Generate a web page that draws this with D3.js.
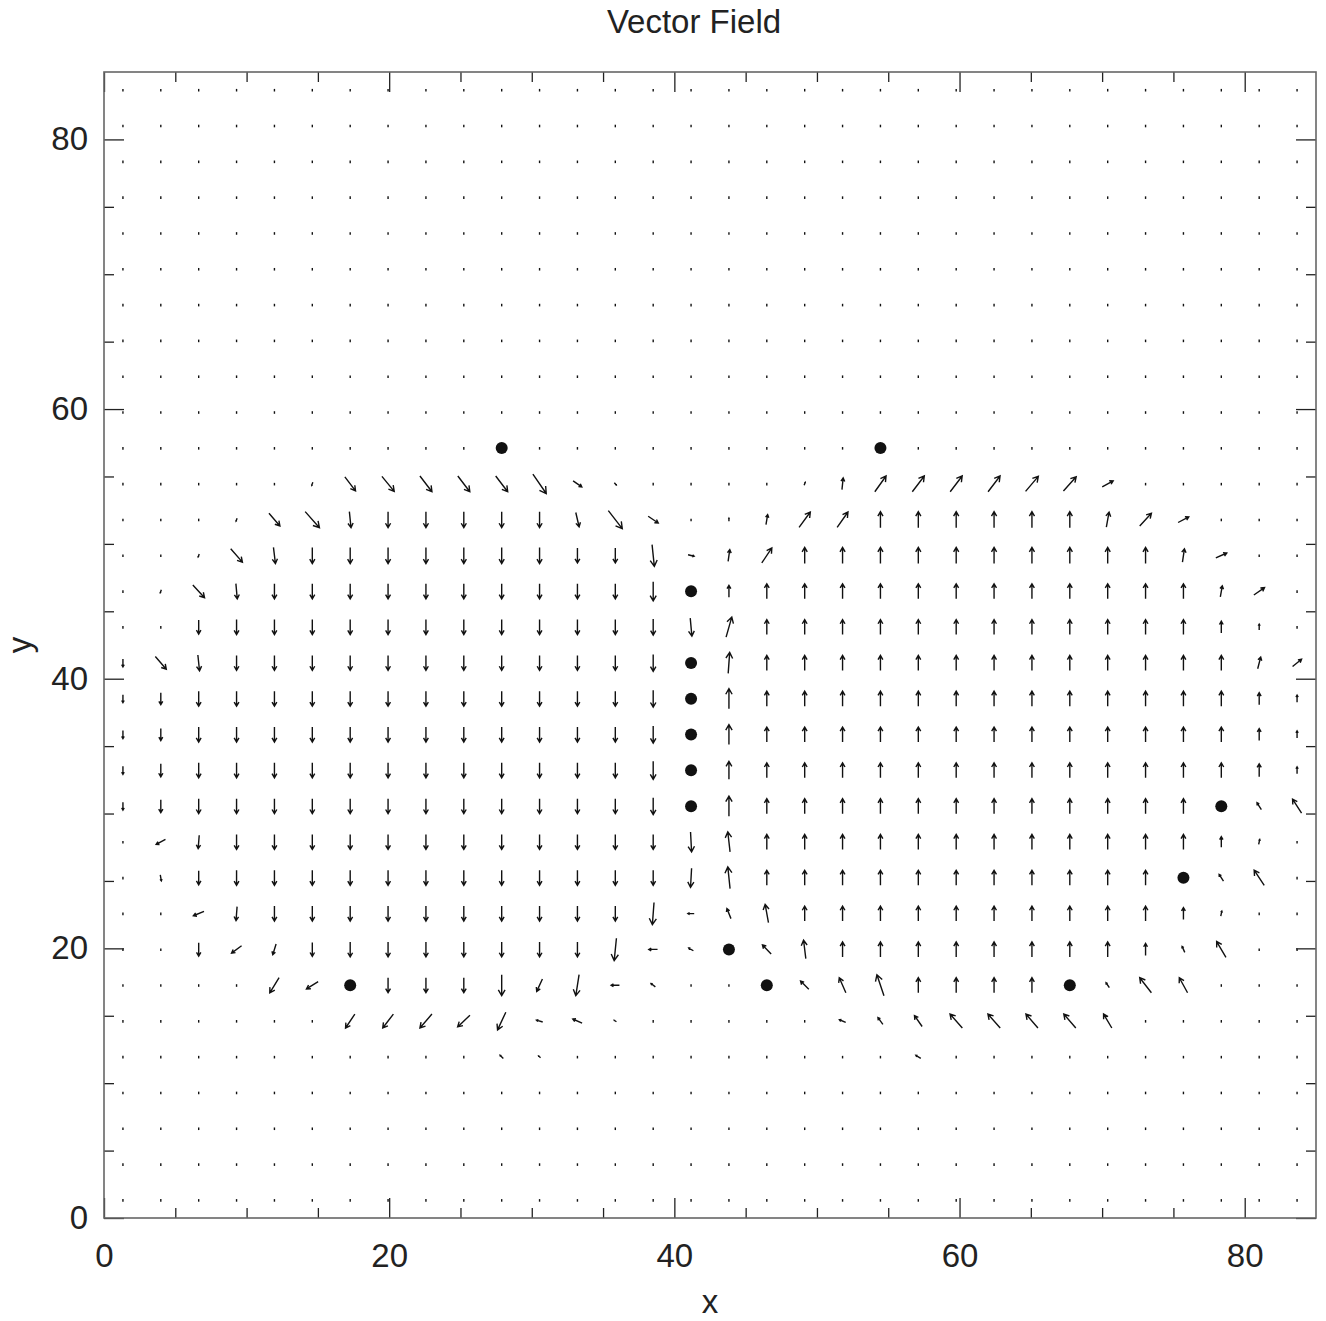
<!DOCTYPE html>
<html>
<head>
<meta charset="utf-8">
<script src="https://cdn.jsdelivr.net/npm/d3@7/dist/d3.min.js"></script>
<style>
  body { margin: 0; background: #fff; }
  text { font-family: "Liberation Sans", Arial, Helvetica, sans-serif; fill: #222; }
</style>
</head>
<body>
<div id="chart"></div>
<script>
// grid centres, 32 x 32
var gridX = [1.328, 3.984, 6.641, 9.297, 11.953, 14.609, 17.266, 19.922, 22.578, 25.234,
  27.891, 30.547, 33.203, 35.859, 38.516, 41.172, 43.828, 46.484, 49.141, 51.797,
  54.453, 57.109, 59.766, 62.422, 65.078, 67.734, 70.391, 73.047, 75.703, 78.359,
  81.016, 83.672];
var gridY = [1.328, 3.984, 6.641, 9.297, 11.953, 14.609, 17.266, 19.922, 22.578, 25.234,
  27.891, 30.547, 33.203, 35.859, 38.516, 41.172, 43.828, 46.484, 49.141, 51.797,
  54.453, 57.109, 59.766, 62.422, 65.078, 67.734, 70.391, 73.047, 75.703, 78.359,
  81.016, 83.672];

// rows (index into gridY) that carry non-zero vectors, top to bottom
var vecRows = [20, 19, 18, 17, 16, 15, 14, 13, 12, 11, 10, 9, 8, 7, 6, 5, 4];

// u component per row (32 columns)
var uRows = [
  [0,0,0,0,0, -0.07,0.71,0.82,0.8,0.8, 0.8,0.89,0.58,0.13,0, 0,0,0,0.07,0.08, 0.75,0.8,0.8,0.8,0.85, 0.85,0.73,0,0,0, 0,0],
  [0,0,0,-0.07,0.73, 0.95,0.11,0,0,0, 0,0,0.22,0.93,0.67, 0,0,0.11,0.75,0.72, 0,0,0,0,0, 0,0.18,0.78,0.71,0, 0,0],
  [0,0,-0.07,0.78,0.13, 0,0,0,0,0, 0,0,0,0,0.15, 0.4,0.11,0.67,0,0, 0,0,0,0,0, 0,0,0,0.13,0.73, 0,0],
  [0,-0.07,0.78,0.09,0, 0,0,0,0,0, 0,0,0,0,0, 0,0,0,0,0, 0,0,0,0,0, 0,0,0,0,0.13, 0.71,0],
  [0,0,0,0,0, 0,0,0,0,0, 0,0,0,0,0, 0.11,0.38,0,0,0, 0,0,0,0,0, 0,0,0,0,0, 0,0],
  [0,0.73,0.11,0,0, 0,0,0,0,0, 0,0,0,0,0, 0,0.1,0,0,0, 0,0,0,0,0, 0,0,0,0,0, 0.2,0.6],
  [0,0,0,0,0, 0,0,0,0,0, 0,0,0,0,0, 0,0,0,0,0, 0,0,0,0,0, 0,0,0,0,0, 0,0],
  [0,0,0,0,0, 0,0,0,0,0, 0,0,0,0,0, 0,0,0,0,0, 0,0,0,0,0, 0,0,0,0,0, 0,0],
  [0,0,0,0,0, 0,0,0,0,0, 0,0,0,0,0, 0,0,0,0,0, 0,0,0,0,0, 0,0,0,0,0, 0,0],
  [0,0,0,0,0, 0,0,0,0,0, 0,0,0,0,0, 0,0,0,0,0, 0,0,0,0,0, 0,0,0,0,0, -0.29,-0.6],
  [0,-0.62,-0.07,0,0, 0,0,0,0,0, 0,0,0,0,0, 0.07,-0.15,0,0,0, 0,0,0,0,0, 0,0,0,0,0, 0.07,0],
  [0,0.07,0,0,0, 0,0,0,0,0, 0,0,0,0,0, -0.07,-0.15,0,0,0, 0,0,0,0,0, 0,0,0,0,-0.29, -0.67,0],
  [0,0,-0.71,-0.07,0, 0,0,0,0,0, 0,0,0,0,-0.11, -0.42,-0.27,-0.22,0,0, 0,0,0,0,0, 0,0,0,0,0.07, 0,0],
  [0,0,0,-0.67,-0.22, 0,0,0,0,0, 0,0,0,-0.15,-0.58, -0.31,0,-0.58,-0.15,0, 0,0,0,0,0, 0,0,0,-0.18,-0.62, 0,0],
  [0,0,0,0,-0.62, -0.78,0,0,0,0, 0,-0.38,-0.22,-0.55,-0.29, 0,0,0,-0.55,-0.44, -0.47,0,0,0,0, 0,-0.22,-0.78,-0.55,0, 0,0],
  [0,0,0,0,0, 0,-0.62,-0.71,-0.8,-0.82, -0.55,-0.42,-0.62,-0.15,0, 0,0,0,0,-0.42, -0.33,-0.51,-0.82,-0.82,-0.8, -0.8,-0.55,0,0,0, 0,0],
  [0,0,0,0,0, 0,0,0,0,0, -0.22,-0.13,0,0,0, 0,0,0,0,0, 0,-0.33,0,0,0, 0,0,0,0,0, 0,0]
];

// v component per row (32 columns)
var vRows = [
  [0,0,0,0,0, -0.2,-0.93,-1.0,-1.05,-1.05, -1.05,-1.29,-0.4,-0.15,0, 0,0,0,0.2,0.78, 1.05,1.05,1.05,1.05,1.0, 0.95,0.4,0,0,0, 0,0],
  [0,0,0,-0.2,-0.85, -1.07,-1.07,-1.07,-1.07,-1.07, -1.07,-1.07,-0.95,-1.2,-0.45, 0,0.2,0.67,1.02,1.02, 1.07,1.07,1.07,1.07,1.07, 1.07,1.0,0.85,0.38,0, 0,0],
  [0,0,-0.2,-0.89,-1.07, -1.07,-1.07,-1.07,-1.07,-1.07, -1.07,-1.07,-1.0,-1.0,-1.45, -0.1,0.78,1.0,1.07,1.07, 1.07,1.07,1.07,1.07,1.07, 1.07,1.07,1.07,0.89,0.33, 0,0],
  [0,-0.2,-0.85,-1.02,-1.02, -1.02,-1.02,-1.02,-1.02,-1.02, -1.02,-1.02,-1.02,-1.02,-1.27, 0,0.8,1.0,1.0,1.0, 1.0,1.0,1.0,1.0,1.0, 1.0,1.0,1.0,1.0,0.73, 0.49,0],
  [0,0,-0.93,-1.0,-1.0, -1.0,-1.0,-1.0,-1.0,-1.0, -1.0,-1.0,-1.0,-1.0,-1.07, -1.2,1.33,1.0,1.0,1.0, 1.0,1.0,1.0,1.0,1.0, 1.0,1.0,1.0,1.0,0.78, 0.4,0],
  [-0.53,-0.85,-1.05,-1.0,-1.0, -1.0,-1.0,-1.0,-1.0,-1.0, -1.0,-1.0,-1.0,-1.0,-1.13, 0,1.4,1.0,1.0,1.0, 1.0,1.0,1.0,1.0,1.0, 1.0,1.0,1.0,1.0,1.0, 0.78,0.49],
  [-0.53,-0.8,-1.0,-1.0,-1.0, -1.0,-1.0,-1.0,-1.0,-1.0, -1.0,-1.0,-1.0,-1.0,-1.13, 0,1.33,1.0,1.0,1.0, 1.0,1.0,1.0,1.0,1.0, 1.0,1.0,1.0,1.0,1.0, 0.8,0.47],
  [-0.53,-0.8,-1.0,-1.0,-1.0, -1.0,-1.0,-1.0,-1.0,-1.0, -1.0,-1.0,-1.0,-1.0,-1.13, 0,1.33,1.0,1.0,1.0, 1.0,1.0,1.0,1.0,1.0, 1.0,1.0,1.0,1.0,1.0, 0.8,0.47],
  [-0.53,-0.87,-1.0,-1.0,-1.0, -1.0,-1.0,-1.0,-1.0,-1.0, -1.0,-1.0,-1.0,-1.0,-1.2, 0,1.2,1.0,1.0,1.0, 1.0,1.0,1.0,1.0,1.0, 1.0,1.0,1.0,1.0,1.0, 0.87,0.47],
  [-0.53,-0.87,-1.0,-1.0,-1.0, -1.0,-1.0,-1.0,-1.0,-1.0, -1.0,-1.0,-1.0,-1.0,-1.13, 0,1.33,1.0,1.0,1.0, 1.0,1.0,1.0,1.0,1.0, 1.0,1.0,1.0,1.0,0, 0.45,0.93],
  [0,-0.33,-0.89,-1.0,-1.0, -1.0,-1.0,-1.0,-1.0,-1.0, -1.0,-1.0,-1.0,-1.0,-1.0, -1.33,1.33,1.0,1.0,1.0, 1.0,1.0,1.0,1.0,1.0, 1.0,1.0,1.0,1.0,0.7, 0.33,0],
  [0,-0.4,-0.93,-1.0,-1.0, -1.0,-1.0,-1.0,-1.0,-1.0, -1.0,-1.0,-1.0,-1.0,-1.0, -1.27,1.45,1.0,1.0,1.0, 1.0,1.0,1.0,1.0,1.0, 1.0,1.0,1.0,0,0.45, 1.02,0],
  [0,0,-0.29,-0.93,-1.0, -1.0,-1.0,-1.0,-1.0,-1.0, -1.0,-1.0,-1.0,-1.0,-1.47, 0,0.67,1.22,1.0,1.0, 1.0,1.0,1.0,1.0,1.0, 1.0,1.0,1.0,0.8,0.33, 0,0],
  [0,0,-0.9,-0.49,-0.71, -0.93,-1.0,-1.0,-1.0,-1.0, -1.0,-1.0,-1.0,-1.49,0, 0.18,0,0.6,1.22,1.0, 1.0,1.0,1.0,1.0,1.0, 1.0,1.0,0.8,0.4,1.05, 0,0],
  [0,0,0,0,-1.02, -0.49,0,-1.0,-1.0,-1.0, -1.4,-0.82,-1.4,0,0.22, 0,0,0,0.55,1.0, 1.4,1.0,1.0,1.0,1.0, 0,0.33,1.0,1.0,0, 0,0],
  [0,0,0,0,0, 0,-0.93,-0.93,-0.93,-0.78, -1.18,0.13,0.27,0.1,0, 0,0,0,0,0.17, 0.45,0.73,0.93,0.93,0.93, 0.93,0.93,0,0,0, 0,0],
  [0,0,0,0,0, 0,0,0,0,0, 0.22,0.13,0,0,0, 0,0,0,0,0, 0,0.2,0,0,0, 0,0,0,0,0, 0,0]
];

// missing points drawn as dots [column, row]
var missing = [[10, 21], [20, 21], [15, 17], [15, 15], [15, 14], [15, 13], [15, 12], [15, 11],
  [29, 11], [28, 9], [16, 7], [6, 6], [17, 6], [25, 6]];

var majorTicks = [0, 20, 40, 60, 80];
var minorTicks = [5, 10, 15, 25, 30, 35, 45, 50, 55, 65, 70, 75];

var svgWidth = 1326;
var svgHeight = 1321;
var margin = { top: 72, right: 10, bottom: 103, left: 104 };
var width = svgWidth - margin.left - margin.right;
var height = svgHeight - margin.top - margin.bottom;

var svg = d3.select("#chart")
  .append("svg")
  .attr("width", svgWidth)
  .attr("height", svgHeight)
  .style("background", "#fff");

var chartGroup = svg.append("g")
  .attr("transform", `translate(${margin.left}, ${margin.top})`);

var x = d3.scaleLinear().domain([0, 85]).range([0, width]);
var y = d3.scaleLinear().domain([0, 85]).range([height, 0]);
// vector magnitude -> pixels
var len = d3.scaleLinear().domain([0, 1]).range([0, 15]);

var isMissing = {};
missing.forEach(function(m) { isMissing[m[0] + "," + m[1]] = true; });

var field = [];
gridY.forEach(function(gy, j) {
  var k = vecRows.indexOf(j);
  gridX.forEach(function(gx, i) {
    if (isMissing[i + "," + j]) return;
    field.push({
      x: gx, y: gy,
      u: k < 0 ? 0 : (uRows[k][i] || 0),
      v: k < 0 ? 0 : (vRows[k][i] || 0)
    });
  });
});

function arrowPath(d) {
  var cx = x(d.x), cy = y(d.y);
  var dx = len(d.u), dy = -len(d.v);
  var L = Math.sqrt(dx * dx + dy * dy);
  if (L < 1.5) {
    return `M${cx},${cy - 1}L${cx},${cy + 1.6}`;
  }
  var x0 = cx - dx / 2, y0 = cy - dy / 2;
  var x1 = cx + dx / 2, y1 = cy + dy / 2;
  var a = Math.atan2(dy, dx);
  var h = 0.32 * L;
  var hx1 = x1 - h * Math.cos(a - Math.PI / 6), hy1 = y1 - h * Math.sin(a - Math.PI / 6);
  var hx2 = x1 - h * Math.cos(a + Math.PI / 6), hy2 = y1 - h * Math.sin(a + Math.PI / 6);
  return `M${x0},${y0}L${x1},${y1}M${hx1},${hy1}L${x1},${y1}L${hx2},${hy2}`;
}

chartGroup.append("g")
  .selectAll("path")
  .data(field)
  .enter()
  .append("path")
  .attr("d", arrowPath)
  .attr("fill", "none")
  .attr("stroke", "#111")
  .attr("stroke-width", 1.4);

chartGroup.append("g")
  .selectAll("circle")
  .data(missing)
  .enter()
  .append("circle")
  .attr("cx", d => x(gridX[d[0]]))
  .attr("cy", d => y(gridY[d[1]]))
  .attr("r", 6)
  .attr("fill", "#111");

// axes: major and minor ticks on all four sides, pointing inward
function styleAxis(g) {
  g.select(".domain").remove();
  g.selectAll(".tick line").attr("stroke", "#222").attr("stroke-width", 1.3);
  g.selectAll("text").style("font-size", "33px").attr("fill", "#222");
}

chartGroup.append("g")
  .attr("transform", `translate(0, ${height})`)
  .call(d3.axisBottom(x).tickValues(majorTicks).tickSize(-20).tickPadding(26).tickFormat(d3.format("d")))
  .call(styleAxis);
chartGroup.append("g")
  .attr("transform", `translate(0, ${height})`)
  .call(d3.axisBottom(x).tickValues(minorTicks).tickSize(-10).tickFormat(""))
  .call(styleAxis);
chartGroup.append("g")
  .call(d3.axisTop(x).tickValues(majorTicks).tickSize(-20).tickFormat(""))
  .call(styleAxis);
chartGroup.append("g")
  .call(d3.axisTop(x).tickValues(minorTicks).tickSize(-10).tickFormat(""))
  .call(styleAxis);
chartGroup.append("g")
  .call(d3.axisLeft(y).tickValues(majorTicks).tickSize(-20).tickPadding(16).tickFormat(d3.format("d")))
  .call(styleAxis);
chartGroup.append("g")
  .call(d3.axisLeft(y).tickValues(minorTicks).tickSize(-10).tickFormat(""))
  .call(styleAxis);
chartGroup.append("g")
  .attr("transform", `translate(${width}, 0)`)
  .call(d3.axisRight(y).tickValues(majorTicks).tickSize(-20).tickFormat(""))
  .call(styleAxis);
chartGroup.append("g")
  .attr("transform", `translate(${width}, 0)`)
  .call(d3.axisRight(y).tickValues(minorTicks).tickSize(-10).tickFormat(""))
  .call(styleAxis);

// frame
chartGroup.append("rect")
  .attr("x", 0)
  .attr("y", 0)
  .attr("width", width)
  .attr("height", height)
  .attr("fill", "none")
  .attr("stroke", "#666")
  .attr("stroke-width", 1.6);

svg.append("text")
  .attr("x", 694)
  .attr("y", 33)
  .attr("text-anchor", "middle")
  .style("font-size", "33px")
  .text("Vector Field");

svg.append("text")
  .attr("x", margin.left + width / 2)
  .attr("y", 1313)
  .attr("text-anchor", "middle")
  .style("font-size", "33px")
  .text("x");

svg.append("text")
  .attr("transform", `translate(31, ${margin.top + height / 2}) rotate(-90)`)
  .attr("text-anchor", "middle")
  .style("font-size", "33px")
  .text("y");
</script>
</body>
</html>
